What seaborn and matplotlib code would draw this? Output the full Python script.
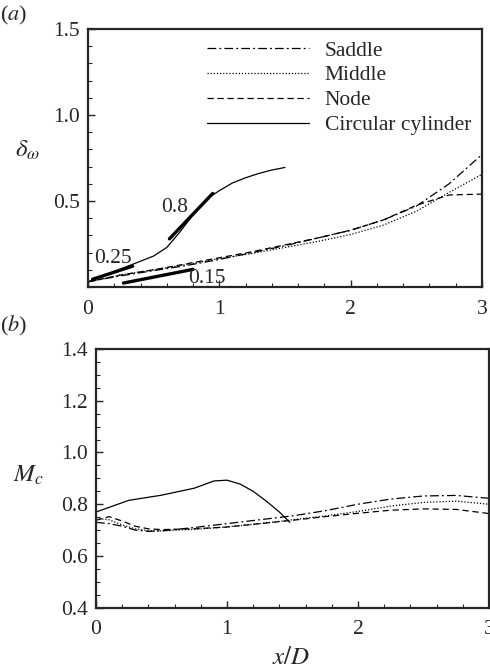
import numpy as np
import pandas as pd
import matplotlib
matplotlib.use("Agg")
import matplotlib.pyplot as plt
import seaborn as sns

# ---- data ----
# (a) vorticity thickness
xa = [0, 0.25, 0.5, 0.75, 1.0, 1.25, 1.5, 1.75, 2.0, 2.25, 2.5, 2.75, 3.0]
saddle_a = [0.03, 0.065, 0.095, 0.125, 0.16, 0.2, 0.24, 0.285, 0.33, 0.39, 0.47, 0.6, 0.77]
middle_a = [0.03, 0.07, 0.1, 0.13, 0.165, 0.195, 0.23, 0.265, 0.305, 0.36, 0.44, 0.55, 0.655]
node_a = [0.03, 0.07, 0.1, 0.135, 0.17, 0.205, 0.245, 0.285, 0.33, 0.39, 0.475, 0.535, 0.54]
xa_cyl = [0, 0.1, 0.2, 0.3, 0.4, 0.5, 0.6, 0.7, 0.8, 0.9, 1.0, 1.1, 1.2, 1.3, 1.4, 1.5]
cyl_a = [0.03, 0.06, 0.09, 0.12, 0.15, 0.18, 0.23, 0.32, 0.42, 0.51, 0.56, 0.605, 0.635, 0.66, 0.68, 0.695]

# growth-rate reference lines: slope, x start, x end, y at start
slopes = [0.25, 0.8, 0.15]
slope_x0 = [0.035, 0.62, 0.27]
slope_x1 = [0.34, 0.95, 0.80]
slope_y0 = [0.045, 0.28, 0.023]
slope_lbl = ["0.25", "0.8", "0.15"]
slope_lbl_xy = [(0.05, 0.168), (0.56, 0.46), (0.76, 0.05)]

# (b) convective Mach number
xb = [0, 0.1, 0.2, 0.3, 0.4, 0.5, 0.75, 1.0, 1.25, 1.5, 1.75, 2.0, 2.25, 2.5, 2.75, 3.0]
saddle_b = [0.73, 0.725, 0.715, 0.70, 0.695, 0.697, 0.71, 0.725, 0.74, 0.755, 0.775, 0.80, 0.82, 0.832, 0.834, 0.823]
middle_b = [0.745, 0.74, 0.72, 0.705, 0.698, 0.697, 0.703, 0.712, 0.725, 0.74, 0.755, 0.772, 0.793, 0.807, 0.812, 0.80]
node_b = [0.738, 0.752, 0.735, 0.715, 0.705, 0.702, 0.705, 0.712, 0.725, 0.738, 0.752, 0.765, 0.777, 0.782, 0.78, 0.764]
xb_cyl = [0, 0.25, 0.5, 0.75, 0.9, 1.0, 1.1, 1.2, 1.3, 1.4, 1.48]
cyl_b = [0.77, 0.815, 0.835, 0.862, 0.89, 0.893, 0.878, 0.85, 0.812, 0.77, 0.73]

labels = ["Saddle", "Middle", "Node", "Circular cylinder"]
dashes = [(7, 2.5, 1.5, 2.5), (1, 1.5), (5, 3), ""]

sns.set_style("ticks")
plt.rcParams["font.family"] = ["Liberation Serif", "DejaVu Serif"]
plt.rcParams["mathtext.fontset"] = "stix"
plt.rcParams["xtick.direction"] = "in"
plt.rcParams["ytick.direction"] = "in"

FS = 15.5

fig = plt.figure(figsize=(4.9, 6.69), dpi=100)
ax1 = fig.add_axes([0.1796, 0.571, 0.804, 0.3857])
ax2 = fig.add_axes([0.1959, 0.0916, 0.802, 0.3867])


def draw(ax, series):
    for (x, y), lab, d in zip(series, labels, dashes):
        df = pd.DataFrame({"x": x, "y": y})
        sns.lineplot(data=df, x="x", y="y", ax=ax, color="black", lw=0.9,
                     label=lab, legend=False)
        line = ax.lines[-1]
        if d:
            line.set_dashes(d)


draw(ax1, [(xa, saddle_a), (xa, middle_a), (xa, node_a), (xa_cyl, cyl_a)])
draw(ax2, [(xb, saddle_b), (xb, middle_b), (xb, node_b), (xb_cyl, cyl_b)])

# reference slopes
for s, x0, x1, y0, lab, (lx, ly) in zip(slopes, slope_x0, slope_x1, slope_y0,
                                         slope_lbl, slope_lbl_xy):
    seg = pd.DataFrame({"x": [x0, x1], "y": [y0, y0 + s * (x1 - x0)]})
    sns.lineplot(data=seg, x="x", y="y", ax=ax1, color="black", lw=2.4)
    ax1.text(lx, ly, lab, fontsize=FS, va="center")

leg = ax1.legend(handles=ax1.lines[:4], labels=labels, loc="upper left",
                 bbox_to_anchor=(0.303, 0.955), frameon=False, fontsize=FS,
                 handlelength=4.7, handletextpad=0.75, labelspacing=0.22,
                 borderaxespad=0, borderpad=0)

for ax in (ax1, ax2):
    ax.set_xlim(0, 3)
    ax.set_xticks([0, 1, 2, 3])
    ax.set_xticks(np.arange(0, 3.01, 0.2), minor=True)
    ax.tick_params(which="major", length=5, width=1, labelsize=FS, top=False, right=False, pad=6)
    ax.tick_params(axis="x", which="major", pad=9)
    ax.tick_params(which="minor", length=3, width=0.8, top=False, right=False)
    for sp in ax.spines.values():
        sp.set_linewidth(1.6)
        sp.set_visible(True)
    ax.set_xlabel("")
    ax.set_ylabel("")

ax1.set_ylim(0, 1.5)
ax1.set_yticks([0.5, 1.0, 1.5])
ax1.set_yticklabels(["0.5", "1.0", "1.5"])
ax1.set_yticks(np.arange(0, 1.51, 0.1), minor=True)

ax2.set_ylim(0.4, 1.4)
ax2.set_yticks(np.arange(0.4, 1.41, 0.2))
ax2.set_yticklabels(["0.4", "0.6", "0.8", "1.0", "1.2", "1.4"])
ax2.set_yticks(np.arange(0.4, 1.41, 0.05), minor=True)

fig.text(0.0, 0.977, r"($\mathit{a}$)", fontsize=16, va="center")
fig.text(0.0, 0.513, r"($\mathit{b}$)", fontsize=16, va="center")
fig.text(0.057, 0.775, r"$\delta_\omega$", fontsize=18, ha="center", va="center")
fig.text(0.058, 0.29, r"$M_c$", fontsize=18, ha="center", va="center")
fig.text(0.595, 0.016, r"$x/D$", fontsize=18, ha="center", va="center")

fig.savefig("out.png", dpi=100)
